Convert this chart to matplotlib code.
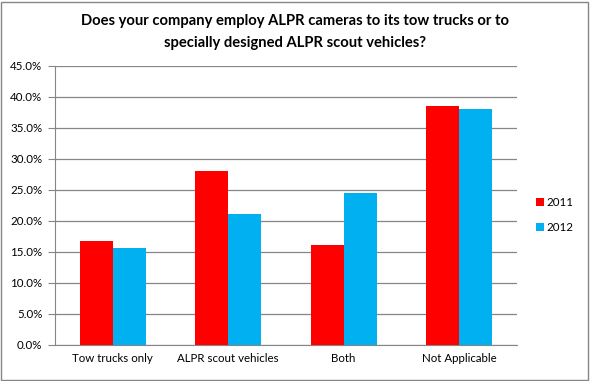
import matplotlib.pyplot as plt
import numpy as np
from matplotlib.patches import Rectangle

categories = ['Tow trucks only', 'ALPR scout vehicles', 'Both', 'Not Applicable']
y2011 = [16.8, 28.1, 16.1, 38.5]
y2012 = [15.6, 21.1, 24.5, 38.0]
series = ['2011', '2012']
yticks = [0, 5, 10, 15, 20, 25, 30, 35, 40, 45]

plt.rcParams['font.family'] = ['Lato', 'DejaVu Sans']

fig = plt.figure(figsize=(5.9, 3.81), dpi=100)
ax = fig.add_axes([0.093, 0.0945, 0.783, 0.7325])

x = np.arange(len(categories))
w = 0.286
ax.bar(x - w / 2, y2011, w, color='#ff0000', label=series[0], zorder=3)
ax.bar(x + w / 2, y2012, w, color='#00b0f0', label=series[1], zorder=3)

ax.set_xlim(-0.5, len(categories) - 0.5)
ax.set_ylim(0, 45)
ax.set_yticks(yticks)
ax.set_yticklabels([f'{v:.1f}%' for v in yticks], fontsize=8.3)
ax.set_xticks(x)
ax.set_xticklabels(categories, fontsize=8.3)
ax.yaxis.grid(True, color='#868686', linewidth=0.9, zorder=0)
ax.tick_params(axis='y', length=5, color='#868686', pad=4)
ax.tick_params(axis='x', length=0, pad=6)
for s in ['top', 'right']:
    ax.spines[s].set_visible(False)
for s in ['left', 'bottom']:
    ax.spines[s].set_color('#868686')

fig.text(0.5, 0.916, 'Does your company employ ALPR cameras to its tow trucks or to\nspecially designed ALPR scout vehicles?',
         ha='center', va='center', fontsize=10.6, fontweight='bold', linespacing=1.7)

fig.legend(loc='center', bbox_to_anchor=(0.94, 0.435), frameon=False, fontsize=8.3,
           handlelength=0.7, handleheight=0.7, handletextpad=0.2, labelspacing=1.2)

fig.patches.append(Rectangle((0.002, 0.003), 0.995, 0.993, transform=fig.transFigure,
                             fill=False, edgecolor='#868686', linewidth=1))

fig.savefig('out.png', dpi=100)
